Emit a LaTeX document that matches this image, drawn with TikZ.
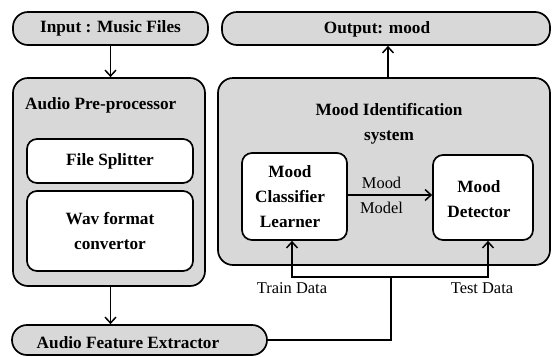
\documentclass[tikz,border=0pt]{standalone}
\usepackage{fontspec}
\setmainfont{Liberation Serif}
\usetikzlibrary{arrows.meta}
\definecolor{boxgray}{RGB}{216,216,216}
\begin{document}
\begin{tikzpicture}[x=1bp,y=-1bp,
 base/.style={draw=black, line width=1.7bp, inner sep=0pt},
 graybox/.style={base, fill=boxgray, rounded corners=15bp},
 pill/.style={base, fill=boxgray, rounded corners=15bp},
 whitebox/.style={base, fill=white, rounded corners=10bp},
 lbl/.style={font=\fontsize{17.3}{25}\selectfont\bfseries, align=center},
 small/.style={font=\fontsize{16.5}{19}\selectfont, inner sep=0pt},
 conn/.style={line width=1.5bp, -{Straight Barb[length=6bp,width=11bp,line width=1.5bp]}},
 plain/.style={line width=1.5bp}
]
\useasboundingbox (0,0) rectangle (552,356);

% top pills
\node[pill, minimum width=195bp, minimum height=33bp, lbl] (input) at (110.5,28.5) {Input : Music Files};
\node[pill, minimum width=328bp, minimum height=33bp] (output) at (386,28.5) {};
\node[lbl] (outtxt) at (377,29) {Output: mood};

% audio pre-processor
\node[graybox, minimum width=192bp, minimum height=208bp] (pre) at (109,182) {};
\node[lbl, anchor=west, inner sep=0pt] (pretitle) at (25,105) {Audio Pre-processor};
\node[whitebox, minimum width=166bp, minimum height=44bp, lbl] (split) at (110,161) {File Splitter};
\node[whitebox, minimum width=166bp, minimum height=80bp, lbl] (wav) at (110,231) {Wav format\\convertor};

% mood identification system
\node[graybox, minimum width=332bp, minimum height=187bp] (mid) at (384,171.5) {};
\node[lbl] (midtitle) at (389,124) {Mood Identification\\system};
\node[whitebox, minimum width=105bp, minimum height=87bp] (clf) at (294.5,196.5) {};
\node[lbl] (clftxt) at (290,197) {Mood\\Classifier\\Learner};
\node[whitebox, minimum width=100bp, minimum height=85bp] (det) at (483,197.5) {};
\node[lbl] (dettxt) at (479,199.5) {Mood\\Detector};

% feature extractor
\node[pill, minimum width=255bp, minimum height=30bp] (fe) at (139.5,340) {};
\node[lbl] (fetxt) at (128,343) {Audio Feature Extractor};

% connectors
\draw[conn] (input.south) -- (input.south |- pre.north);
\draw[conn] ([xshift=4bp]mid.north) -- ([xshift=4bp]mid.north |- output.south);
\draw[conn] (pre.south -| input.south) -- (input.south |- fe.north);
\draw[conn] ([yshift=1.5bp]clf.east) -- ([yshift=1.5bp]clf.east -| det.west)
  node[small, pos=0.4, above=6bp] (ml1) {Mood}
  node[small, pos=0.4, below=6bp] (ml2) {Model};
\coordinate (j) at (391,277);
\draw[plain] (fe.east) -| (j);
\draw[conn] (j) -| ([xshift=-2.5bp]clf.south);
\draw[conn] (j) -| ([xshift=5bp]det.south);
\node[small] (train) at (292,288) {Train Data};
\node[small] (test) at (482,288) {Test Data};
\end{tikzpicture}
\end{document}
